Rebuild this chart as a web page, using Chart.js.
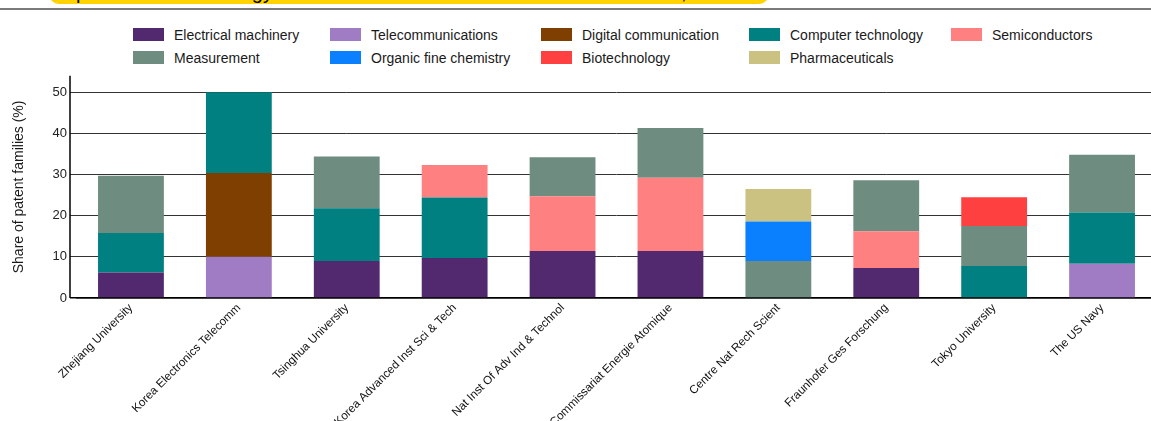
<!DOCTYPE html>
<html>
<head>
<meta charset="utf-8">
<script src="https://cdn.jsdelivr.net/npm/chart.js@4.4.0/dist/chart.umd.min.js"></script>
<style>
body { margin:0; width:1151px; height:421px; overflow:hidden; background:#fff; position:relative; font-family:"Liberation Sans", Arial, sans-serif; }
#banner { position:absolute; left:48px; top:-22px; width:722px; height:26px; background:#ffd200; border-radius:0 0 12px 12px; font-size:20px; line-height:29px; padding-left:7px; box-sizing:border-box; color:#000; overflow:hidden; white-space:nowrap; }
#rule { position:absolute; left:0; top:8px; width:1151px; height:2px; background:#7a7a7a; }
.leg { position:absolute; height:16px; font-size:14px; line-height:16px; color:#1a1a1a; white-space:nowrap; }
.leg .box { position:absolute; left:0; top:1px; width:31px; height:13px; }
.leg .txt { position:absolute; left:41px; top:0; }
#wrap { position:absolute; left:0; top:65px; width:1156px; height:356px; }
</style>
</head>
<body>
<div id="banner">Top research technology holders and their main technical areas overall, 2010-18</div>
<div id="rule"></div>
<div id="legend"></div>
<div id="wrap"><canvas id="chart" width="1156" height="356"></canvas></div>
<script>
const categories = [
    'Zhejiang University',
    'Korea Electronics Telecomm',
    'Tsinghua University',
    'Korea Advanced Inst Sci & Tech',
    'Nat Inst Of Adv Ind & Technol',
    'Commissariat Energie Atomique',
    'Centre Nat Rech Scient',
    'Fraunhofer Ges Forschung',
    'Tokyo University',
    'The US Navy'
];

// share of patent families (%), one array per technology field
const electrical     = [6.2, null, 9.0, 9.7, 11.4, 11.4, null, 7.3, null, null];
const telecom        = [null, 10.0, null, null, null, null, null, null, null, 8.3];
const digital        = [null, 20.4, null, null, null, null, null, null, null, null];
const computer       = [9.6, 19.6, 12.8, 14.7, null, null, null, null, 7.8, 12.5];
const semiconductors = [null, null, null, 7.9, 13.3, 17.8, null, 8.9, null, null];
const measurement    = [13.9, null, 12.6, null, 9.5, 12.1, 9.0, 12.4, 9.7, 14.0];
const organic        = [null, null, null, null, null, null, 9.6, null, null, null];
const biotech        = [null, null, null, null, null, null, null, null, 7.0, null];
const pharma         = [null, null, null, null, null, null, 7.9, null, null, null];

const fieldNames = ['Electrical machinery', 'Telecommunications', 'Digital communication', 'Computer technology', 'Semiconductors',
                    'Measurement', 'Organic fine chemistry', 'Biotechnology', 'Pharmaceuticals'];
const fieldValues = [electrical, telecom, digital, computer, semiconductors, measurement, organic, biotech, pharma];
const fieldColors = ['#52286e', '#a07cc5', '#7f3f00', '#008080', '#ff8080', '#6e8c80', '#0a80ff', '#ff4040', '#cbc282'];

const yTicks = [0, 10, 20, 30, 40, 50];

// legend laid out as a grid, like the original
const legendCols = [133, 330, 541, 749, 951];
const legendRows = [27, 50];
const legend = document.getElementById('legend');
fieldNames.forEach((name, i) => {
    const item = document.createElement('div');
    item.className = 'leg';
    item.style.left = legendCols[i % 5] + 'px';
    item.style.top = legendRows[Math.floor(i / 5)] + 'px';
    item.innerHTML = '<span class="box" style="background:' + fieldColors[i] + '"></span><span class="txt">' + name + '</span>';
    legend.appendChild(item);
});

let datasets = fieldNames.map((name, i) => ({
    label: name,
    data: fieldValues[i],
    backgroundColor: fieldColors[i],
    borderWidth: 0,
    categoryPercentage: 1,
    barPercentage: 0.61
}));

// y axis line sits a little left of the first bar slot
const axisLine = {
    id: 'axisLine',
    afterDraw(chart) {
        const a = chart.chartArea;
        const c = chart.ctx;
        c.save();
        c.strokeStyle = '#000';
        c.lineWidth = 1.5;
        c.beginPath();
        c.moveTo(a.left - 7, a.top);
        c.lineTo(a.left - 7, a.bottom);
        c.stroke();
        c.restore();
    }
};

new Chart(document.getElementById('chart').getContext('2d'), {
    type: 'bar',
    data: { labels: categories, datasets: datasets },
    plugins: [axisLine],
    options: {
        responsive: false,
        animation: false,
        layout: { padding: { top: 5, right: 0, left: 0, bottom: 0 } },
        plugins: { legend: { display: false }, tooltip: { enabled: false } },
        scales: {
            x: {
                stacked: true,
                grid: { display: false, drawTicks: false },
                border: { display: true, color: '#000', width: 1.5 },
                ticks: {
                    color: '#111',
                    font: { family: '"Liberation Sans", Arial, sans-serif', size: 11.7 },
                    minRotation: 45,
                    maxRotation: 45,
                    autoSkip: false,
                    padding: 3
                },
                afterFit(scale) { scale.height = 123; }
            },
            y: {
                stacked: true,
                min: 0,
                max: 54,
                afterBuildTicks(scale) {
                    scale.ticks = yTicks.map(v => ({ value: v }));
                },
                grid: {
                    color: ctx => ctx.tick && ctx.tick.value === 0 ? '#000' : '#333',
                    lineWidth: ctx => ctx.tick && ctx.tick.value === 0 ? 1.5 : 1,
                    tickLength: 7
                },
                border: { display: false },
                ticks: {
                    color: '#222',
                    font: { family: '"Liberation Sans", Arial, sans-serif', size: 13 },
                    padding: 3
                },
                title: {
                    display: true,
                    text: 'Share of patent families (%)',
                    color: '#1a1a1a',
                    font: { family: '"Liberation Sans", Arial, sans-serif', size: 14 },
                    padding: { top: 11, bottom: 0 }
                },
                afterFit(scale) { scale.width = 77; }
            }
        }
    }
});
</script>
</body>
</html>
